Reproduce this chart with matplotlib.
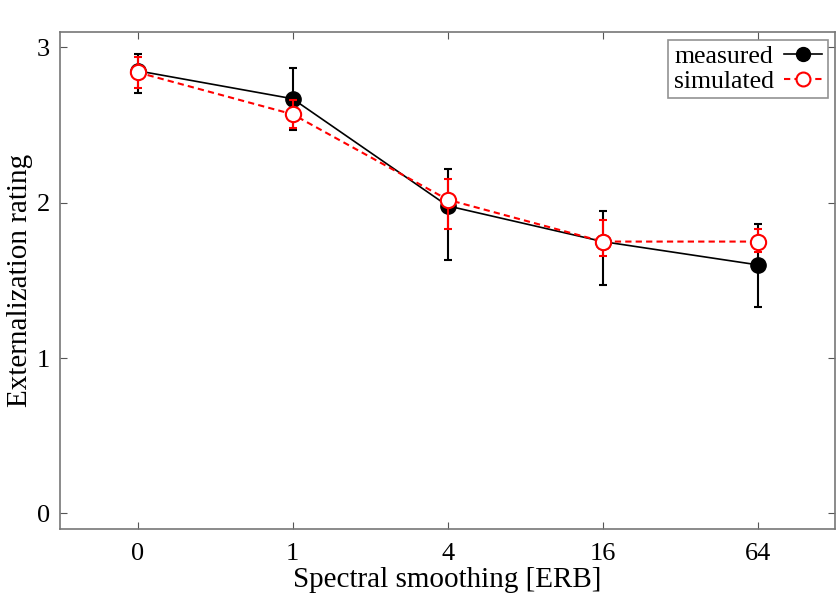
import matplotlib
matplotlib.use('Agg')
import matplotlib.pyplot as plt
from matplotlib.lines import Line2D

# spectral smoothing conditions (ERB)
categories = ['0', '1', '4', '16', '64']

measured = [2.85, 2.67, 1.98, 1.75, 1.60]
measured_err_lo = [0.14, 0.20, 0.35, 0.28, 0.27]
measured_err_hi = [0.11, 0.20, 0.24, 0.20, 0.26]

simulated = [2.84, 2.57, 2.02, 1.75, 1.75]
simulated_err_lo = [0.10, 0.09, 0.19, 0.09, 0.07]
simulated_err_hi = [0.10, 0.09, 0.13, 0.14, 0.08]

plt.rcParams['font.family'] = ['Liberation Serif', 'DejaVu Serif']

fig = plt.figure(figsize=(8.4, 6.03), dpi=100)
ax = fig.add_axes([0.0714, 0.123, 0.923, 0.824])

x = list(range(len(categories)))

ax.errorbar(x, measured, yerr=[measured_err_lo, measured_err_hi],
            color='black', linestyle='-', linewidth=1.2, marker='o',
            markersize=11, markerfacecolor='black', markeredgecolor='black',
            ecolor='black', elinewidth=1.5, capsize=3, capthick=1.5, zorder=2)
ax.errorbar(x, simulated, yerr=[simulated_err_lo, simulated_err_hi],
            color='red', linestyle='--', linewidth=1.5, dashes=(3, 2), marker='o',
            markersize=11, markerfacecolor='white', markeredgecolor='red',
            markeredgewidth=1.5, ecolor='red', elinewidth=1.5, capsize=3, capthick=1.5,
            zorder=3)

ax.set_xlim(-0.5, 4.5)
ax.set_ylim(-0.1, 3.1)
ax.set_xticks(x)
ax.set_xticklabels(categories)
ax.set_yticks([0, 1, 2, 3])
ax.tick_params(direction='in', top=True, right=True, labelsize=19, length=5,
               color='#555555')
ax.tick_params(axis='x', pad=10)
ax.tick_params(axis='y', pad=7)
for s in ax.spines.values():
    s.set_color('#777777')
    s.set_linewidth(1.2)

ax.set_xlabel('Spectral smoothing [ERB]', fontsize=21, labelpad=2)
ax.set_ylabel('Externalization rating', fontsize=21, labelpad=3)

handles = [
    Line2D([], [], color='black', linestyle='-', linewidth=1.2, marker='o',
           markersize=10, markerfacecolor='black'),
    Line2D([], [], color='red', linestyle='--', linewidth=1.5, dashes=(3, 2), marker='o',
           markersize=10, markerfacecolor='white', markeredgecolor='red',
           markeredgewidth=1.5),
]
leg = ax.legend(handles, ['measured', 'simulated'], loc='upper right', markerfirst=False,
                fontsize=18.5, handlelength=1.5, handletextpad=0.4, borderpad=0.2,
                labelspacing=0.1, fancybox=False, borderaxespad=0.3)
leg.get_frame().set_edgecolor('#777777')
leg.get_frame().set_linewidth(1.2)

fig.savefig('out.png', dpi=100)
